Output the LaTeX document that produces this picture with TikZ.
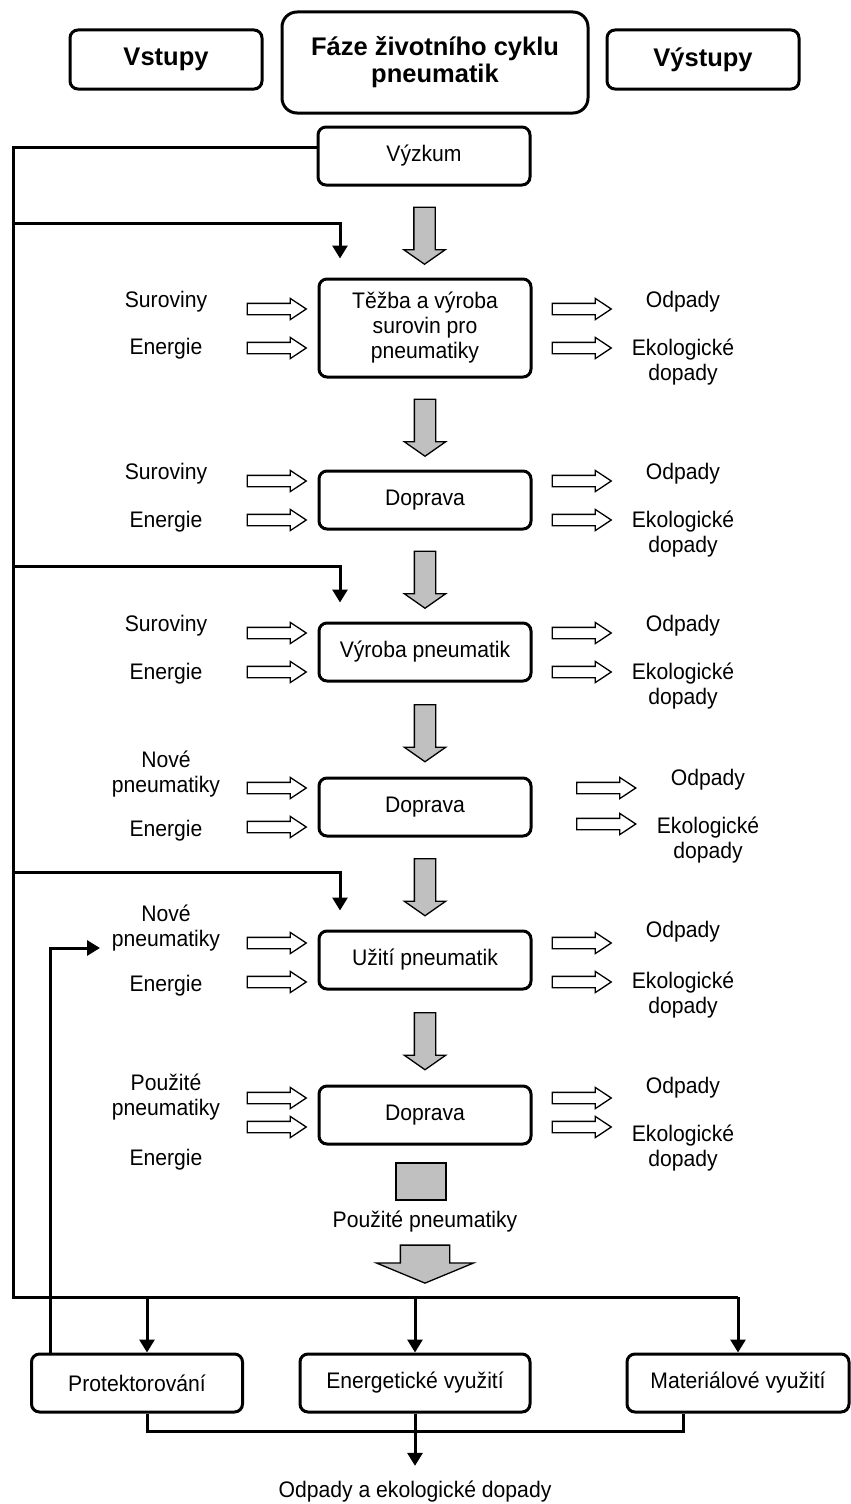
\documentclass[tikz,border=0pt]{standalone}
\usepackage{fontspec}
\setmainfont{Liberation Sans}
\newfontfamily\labelfont{Liberation Sans}[FakeStretch=0.94]
\usetikzlibrary{shapes.arrows, arrows.meta, calc, positioning}
\definecolor{flowgray}{HTML}{C0C0C0}

\begin{document}
\begin{tikzpicture}[
    x=1pt, y=-1pt,
    every node/.style={font=\labelfont\fontsize{22.5}{25}\selectfont},
    head/.style={draw, line width=3pt, rounded corners=8pt, align=center, minimum width=192pt, minimum height=59pt, font=\fontsize{25.5}{27}\selectfont\bfseries},
    phase/.style={draw, line width=3pt, rounded corners=8pt, align=center, minimum width=212pt, minimum height=58pt, inner sep=2pt},
    lbl/.style={align=center, inner sep=0pt},
    inarrow/.style={single arrow, draw, line width=1.3pt, fill=white, inner xsep=0pt, inner ysep=5pt, minimum height=59pt, single arrow head extend=5pt, single arrow tip angle=67},
    flow/.style={single arrow, draw, line width=1.3pt, fill=flowgray, rotate=-90, inner xsep=0pt, inner ysep=10pt, minimum height=57pt, single arrow head extend=10pt, single arrow tip angle=110},
    wire/.style={line width=3pt},
    feed/.style={wire, -{Triangle[length=13pt, width=15pt]}}
  ]
    \useasboundingbox (0,0) rectangle (851,1504);

    % header
    \node[head] (vstupy) at (166,59.5) {Vstupy};
    \node[head, minimum width=306pt, minimum height=101pt, rounded corners=15pt] (faze) at (435,62.5) {Fáze životního cyklu\\pneumatik};
    \node[head] (vystupy) at (703,59.5) {Výstupy};

    % phases of the life cycle
    \node[phase] (vyzkum) at (424,156) {Výzkum};
    \node[phase, minimum height=98pt] (tezba) at (425,328) {Těžba a výroba\\surovin pro\\pneumatiky};
    \node[phase] (doprava1) at (425,500) {Doprava};
    \node[phase] (vyroba) at (425,652) {Výroba pneumatik};
    \node[phase] (doprava2) at (425,807) {Doprava};
    \node[phase] (uziti) at (425,960) {Užití pneumatik};
    \node[phase] (doprava3) at (425,1115) {Doprava};

    \node[flow] (f1) at ($(vyzkum.south)!0.5!(tezba.north)$) {};
    \node[flow] (f2) at ($(tezba.south)!0.5!(doprava1.north)$) {};
    \node[flow] (f3) at ($(doprava1.south)!0.5!(vyroba.north)$) {};
    \node[flow] (f4) at ($(vyroba.south)!0.5!(doprava2.north)$) {};
    \node[flow] (f5) at ($(doprava2.south)!0.5!(uziti.north)$) {};
    \node[flow] (f6) at ($(uziti.south)!0.5!(doprava3.north)$) {};

    % stage 1
    \node[lbl] (in1a) at (166,302) {Suroviny};
    \node[lbl] (in1b) at (166,349) {Energie};
    \node[inarrow] (ia1a) at (272.5,309) {};
    \node[inarrow] (ia1b) at (272.5,348) {};
    \node[inarrow] (oa1a) at (577.5,309) {};
    \node[inarrow] (oa1b) at (577.5,348) {};
    \node[lbl] (out1a) at (683,302) {Odpady};
    \node[lbl] (out1b) at (683,362.5) {Ekologické\\dopady};

    % stage 2
    \node[lbl] (in2a) at (166,474) {Suroviny};
    \node[lbl] (in2b) at (166,522) {Energie};
    \node[inarrow] (ia2a) at (272.5,481) {};
    \node[inarrow] (ia2b) at (272.5,520) {};
    \node[inarrow] (oa2a) at (577.5,481) {};
    \node[inarrow] (oa2b) at (577.5,520) {};
    \node[lbl] (out2a) at (683,474) {Odpady};
    \node[lbl] (out2b) at (683,534.5) {Ekologické\\dopady};

    % stage 3
    \node[lbl] (in3a) at (166,626) {Suroviny};
    \node[lbl] (in3b) at (166,674) {Energie};
    \node[inarrow] (ia3a) at (272.5,633) {};
    \node[inarrow] (ia3b) at (272.5,672) {};
    \node[inarrow] (oa3a) at (577.5,633) {};
    \node[inarrow] (oa3b) at (577.5,672) {};
    \node[lbl] (out3a) at (683,626) {Odpady};
    \node[lbl] (out3b) at (683,686.5) {Ekologické\\dopady};

    % stage 4
    \node[lbl] (in4a) at (166,774.5) {Nové\\pneumatiky};
    \node[lbl] (in4b) at (166,831) {Energie};
    \node[inarrow] (ia4a) at (272.5,788) {};
    \node[inarrow] (ia4b) at (272.5,827) {};
    \node[inarrow] (oa4a) at (602,788) {};
    \node[inarrow] (oa4b) at (602,824) {};
    \node[lbl] (out4a) at (708,780) {Odpady};
    \node[lbl] (out4b) at (708,840.5) {Ekologické\\dopady};

    % stage 5
    \node[lbl] (in5a) at (166,928.5) {Nové\\pneumatiky};
    \node[lbl] (in5b) at (166,986) {Energie};
    \node[inarrow] (ia5a) at (272.5,943) {};
    \node[inarrow] (ia5b) at (272.5,982) {};
    \node[inarrow] (oa5a) at (577.5,943) {};
    \node[inarrow] (oa5b) at (577.5,982) {};
    \node[lbl] (out5a) at (683,932) {Odpady};
    \node[lbl] (out5b) at (683,995) {Ekologické\\dopady};

    % stage 6
    \node[lbl] (in6a) at (166,1097.5) {Použité\\pneumatiky};
    \node[lbl] (in6b) at (166,1160) {Energie};
    \node[inarrow] (ia6a) at (272.5,1098) {};
    \node[inarrow] (ia6b) at (272.5,1127) {};
    \node[inarrow] (oa6a) at (577.5,1098) {};
    \node[inarrow] (oa6b) at (577.5,1127) {};
    \node[lbl] (out6a) at (683,1088) {Odpady};
    \node[lbl] (out6b) at (683,1148.5) {Ekologické\\dopady};

    % used tyres
    \node[draw, line width=1.3pt, fill=flowgray, minimum width=50pt, minimum height=37pt] (stub) at (421,1181.5) {};
    \node (pouzite) at (425,1222) {Použité pneumatiky};
    \node[flow, minimum height=38pt, inner ysep=24pt, single arrow head extend=24pt, single arrow tip angle=135] (bigflow) at (425,1259) {};

    % end of life
    \node[phase, minimum width=211pt] (protekt) at (137,1383) {Protektorování};
    \node[phase, minimum width=230pt] (energ) at (415,1383) {Energetické využití};
    \node[phase, minimum width=222pt] (mater) at (738,1383) {Materiálové využití};
    \node (result) at (415,1492) {Odpady a ekologické dopady};

    % research rail
    \coordinate (railbot) at (13,1297);
    \coordinate (prtop) at ([xshift=10pt]protekt.north);
    \coordinate (fbtip) at (100,948);
    \draw[wire] ([yshift=9pt]vyzkum.west) -| (railbot) -- (railbot -| mater.north);
    \draw[feed] (railbot |- 0,223) -| ([xshift=-85pt, yshift=19pt]tezba.north);
    \draw[feed] (railbot |- 0,566) -| ([xshift=-85pt, yshift=19pt]vyroba.north);
    \draw[feed] (railbot |- 0,872) -| ([xshift=-85pt, yshift=19pt]uziti.north);
    \draw[feed] (railbot -| prtop) -- (prtop);
    \draw[feed] (railbot -| energ.north) -- (energ.north);
    \draw[feed] (railbot -| mater.north) -- (mater.north);
    \draw[feed] ([xshift=20pt]protekt.north west) |- (fbtip);
    \draw[wire] ([xshift=10pt]protekt.south) |- ([xshift=-55pt, yshift=-18pt]mater.south) -- ([xshift=-55pt]mater.south);
    \draw[feed] (energ.south) -- ([yshift=12pt]result.north);
\end{tikzpicture}
\end{document}
